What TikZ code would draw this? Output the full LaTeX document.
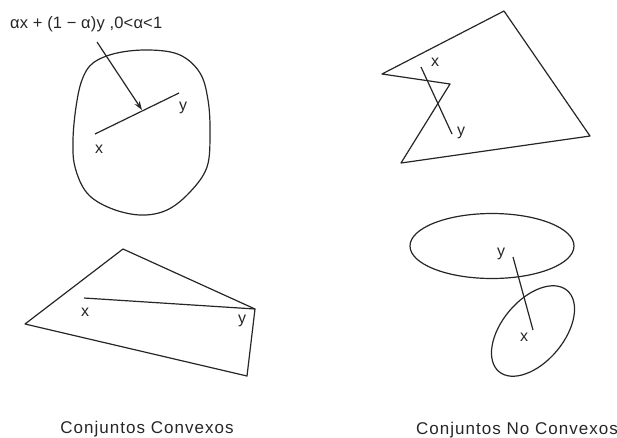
\documentclass[tikz,border=0pt]{standalone}
\usepackage{fontspec}
\setmainfont{Liberation Sans}
\newfontfamily\spfont[LetterSpace=6]{Liberation Sans}
\newfontfamily\fmfont[LetterSpace=1]{Liberation Sans}
\usetikzlibrary{arrows.meta}
\begin{document}
\begin{tikzpicture}[x=1pt,y=-1pt,
  outl/.style={draw=black!85,line width=1.2pt,line join=round},
  seg/.style={draw=black!85,line width=1.2pt},
  lbl/.style={font=\spfont\fontsize{16}{18}\selectfont,inner sep=0pt,text=black!85},
  capt/.style={font=\spfont\fontsize{17}{20}\selectfont,inner sep=0pt,text=black!85},
  form/.style={font=\fmfont\fontsize{16.5}{20}\selectfont,inner sep=0pt,text=black!85}]
\useasboundingbox (0,0) rectangle (617,437);
% convex blob
\draw[outl] plot[smooth cycle,tension=0.6] coordinates {(73,140) (75,167) (87,193) (110,208) (140,215) (167,210) (190,192) (207,167) (210,133) (208,100) (200,73) (180,55) (150,50) (117,53) (93,63) (82,80) (76,107)};
\coordinate (bx) at (95,134);
\coordinate (by) at (179,93);
\draw[seg] (bx) -- (by);
\node[lbl] (blx) at (99,149) {x};
\node[lbl] (bly) at (183,108) {y};
\node[form,anchor=west] (formula) at (10,24) {αx + (1 − α)y ,0<α<1};
\coordinate (as) at (97,42);
\coordinate (ae) at (142,110);
\draw[seg,-{Stealth[length=9pt,width=6pt]}] (as) -- (ae);
% convex quadrilateral
\coordinate (q1) at (123,249);
\coordinate (q2) at (255,309);
\coordinate (q3) at (247,376);
\coordinate (q4) at (25,324);
\draw[outl] (q1) -- (q2) -- (q3) -- (q4) -- cycle;
\coordinate (qx) at (84,298);
\draw[seg] (qx) -- (q2);
\node[lbl] (qlx) at (85,312) {x};
\node[lbl] (qly) at (242,321) {y};
\node[capt] (c1) at (147,429) {Conjuntos Convexos};
% non-convex polygon
\coordinate (p1) at (504,11);
\coordinate (p2) at (590,136);
\coordinate (p3) at (401,163);
\coordinate (p4) at (450,84);
\coordinate (p5) at (382,74);
\draw[outl] (p1) -- (p2) -- (p3) -- (p4) -- (p5) -- cycle;
\coordinate (px) at (421,67);
\coordinate (py) at (452,134);
\draw[seg] (px) -- (py);
\node[lbl] (plx) at (435,62) {x};
\node[lbl] (ply) at (461,133) {y};
% ellipses
\draw[outl] (492,246) ellipse [x radius=82pt, y radius=32.5pt];
\draw[outl] (533,331) ellipse [x radius=53pt, y radius=31pt, rotate=50];
\coordinate (ey) at (513,257);
\coordinate (ex) at (533,330);
\draw[seg] (ey) -- (ex);
\node[lbl] (ely) at (501,254) {y};
\node[lbl] (elx) at (524,337) {x};
\node[capt] (c2) at (517,430) {Conjuntos No Convexos};
\end{tikzpicture}
\end{document}
